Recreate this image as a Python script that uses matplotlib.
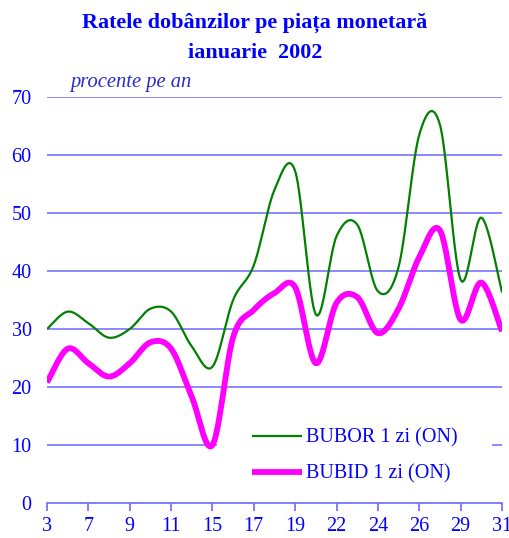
import numpy as np
import matplotlib
matplotlib.use("Agg")
import matplotlib.pyplot as plt
from matplotlib.patches import Rectangle

# ---- data ----
days = ["3", "4", "7", "8", "9", "10", "11", "14", "15", "16", "17", "18",
        "19", "21", "22", "23", "24", "25", "26", "28", "29", "30", "31"]
bubor = [30.0, 33.0, 31.0, 28.5, 30.0, 33.5, 33.0, 27.0, 23.5, 35.0, 41.0, 54.0,
         57.2, 32.5, 46.0, 48.0, 36.5, 40.7, 63.5, 65.2, 38.5, 49.2, 36.3]
bubid = [20.8, 26.6, 24.1, 21.8, 24.1, 27.7, 26.6, 18.3, 10.0, 28.6, 33.3, 36.2,
         37.2, 24.1, 34.5, 35.5, 29.3, 33.5, 42.4, 47.0, 31.6, 38.0, 29.6]
tick_labels = ["3", "7", "9", "11", "15", "17", "19", "22", "24", "26", "29", "31"]
yticks = [0, 10, 20, 30, 40, 50, 60, 70]

BLUE = "#0000ff"
GRID = "#6a6aff"
SERIF = ["Liberation Serif", "DejaVu Serif"]


def smooth(y, n=24):
    """Excel-style smoothed line (Catmull-Rom / Bezier through the points)."""
    y = np.asarray(y, float)
    x = np.arange(len(y), dtype=float)
    pts = np.column_stack([x, y])
    ext = np.vstack([pts[0], pts, pts[-1]])
    out = []
    t = np.linspace(0, 1, n, endpoint=False)[:, None]
    for i in range(len(pts) - 1):
        p0, p3 = ext[i + 1], ext[i + 2]
        c1 = p0 + (ext[i + 2] - ext[i]) / 6.0
        c2 = p3 - (ext[i + 3] - ext[i + 1]) / 6.0
        seg = ((1 - t) ** 3) * p0 + 3 * ((1 - t) ** 2) * t * c1 + 3 * (1 - t) * t ** 2 * c2 + t ** 3 * p3
        out.append(seg)
    out.append(pts[-1][None, :])
    arr = np.vstack(out)
    return arr[:, 0], arr[:, 1]


fig = plt.figure(figsize=(5.10, 5.38), dpi=100)
ax = fig.add_axes([47 / 510, 1 - 503 / 538, 455 / 510, 406 / 538])

ax.set_xlim(0, len(days) - 1)
ax.set_ylim(0, 70)

for v in yticks[1:]:
    ax.axhline(v, color=GRID, lw=1.1, zorder=1)

xs, ys = smooth(bubor)
ax.plot(xs, ys, color="#008000", lw=1.6, label="BUBOR 1 zi (ON)", zorder=4,
        solid_capstyle="butt")
xs, ys = smooth(bubid)
ax.plot(xs, ys, color="#ff00ff", lw=4.2, label="BUBID 1 zi (ON)", zorder=3,
        solid_capstyle="butt")

for s in ["top", "right", "left"]:
    ax.spines[s].set_visible(False)
ax.spines["bottom"].set_color(GRID)
ax.spines["bottom"].set_linewidth(1.2)

ax.set_xticks(np.arange(0, len(days), 2))
ax.set_xticklabels(tick_labels, fontfamily=SERIF, fontsize=14.5, color=BLUE)
ax.tick_params(axis="x", colors=GRID, length=6, width=1.2, pad=4, labelcolor=BLUE)
ax.set_yticks(yticks)
ax.set_yticklabels([str(v) for v in yticks], fontfamily=SERIF, fontsize=14.5, color=BLUE)
ax.tick_params(axis="y", length=0, pad=11, labelcolor=BLUE)

# white legend background area
ax.add_patch(Rectangle((0.3736, 0.02), 0.604, 0.2, transform=ax.transAxes,
                       facecolor="white", edgecolor="none", zorder=2))

leg = ax.legend(loc="lower left", bbox_to_anchor=(0.4505, 0.047), frameon=False,
                prop={"family": SERIF, "size": 14.5}, handlelength=2.5,
                handletextpad=0.2, labelspacing=0.85, borderpad=0,
                borderaxespad=0)
leg.set_zorder(2.5)
for t in leg.get_texts():
    t.set_color(BLUE)

fig.text(0.5, 1 - 23 / 538, "Ratele dobânzilor pe piața monetară", ha="center", va="center",
         fontfamily=SERIF, fontsize=15.9, fontweight="bold", color=BLUE)
fig.text(0.5, 1 - 53 / 538, "ianuarie  2002", ha="center", va="center",
         fontfamily=SERIF, fontsize=15.9, fontweight="bold", color=BLUE)
fig.text(70 / 510, 1 - 83 / 538, "procente pe an", ha="left", va="center",
         fontfamily=SERIF, fontsize=14.8, fontstyle="italic", color="#2a2acc")

fig.savefig("out.png", dpi=100)
